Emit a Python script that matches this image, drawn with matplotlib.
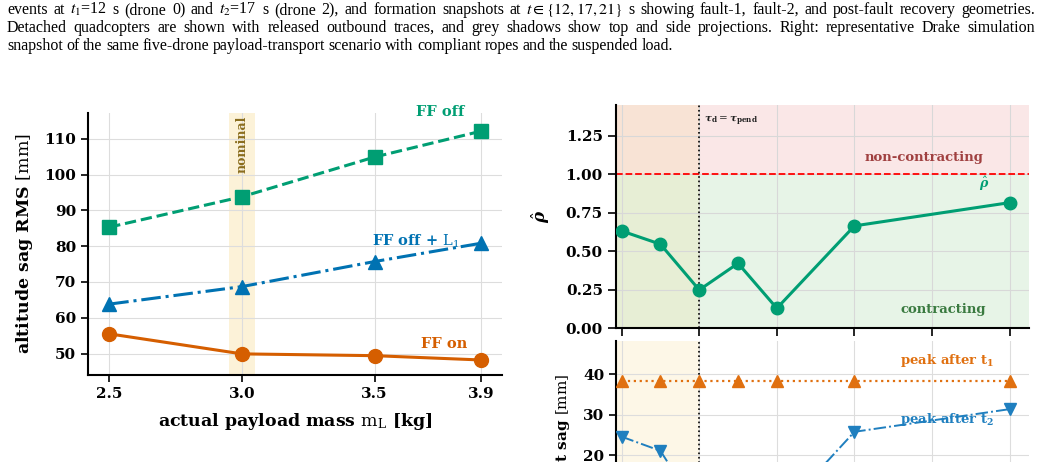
import matplotlib
matplotlib.use("Agg")
import matplotlib.pyplot as plt
import numpy as np

plt.rcParams['font.family'] = ['DejaVu Serif']
plt.rcParams['mathtext.fontset'] = 'dejavuserif'

GREEN = '#009E73'
BLUE = '#0072B2'
ORANGE = '#D55E00'

# left panel: sag RMS vs payload mass
mass = [2.5, 3.0, 3.5, 3.9]
ff_off = [85.3, 93.8, 104.9, 112.1]
ff_off_l1 = [63.8, 68.7, 75.7, 80.8]
ff_on = [55.5, 49.9, 49.4, 48.2]

# right panels: delay sweep
delay = [0, 0.5, 1, 1.5, 2, 3, 5]
delay_ticks = [0, 1, 2, 3, 4, 5]
rho_hat = [0.632, 0.546, 0.249, 0.422, 0.130, 0.665, 0.816]
peak_t1 = [38.4, 38.4, 38.4, 38.4, 38.4, 38.4, 38.4]
peak_t2 = [24.6, 21.1, 6.0, 8.0, 5.0, 25.8, 31.4]

caption = [
    ["events", "at", "$t_1$=12", "s", "(drone", "0)", "and", "$t_2$=17", "s", "(drone", "2),", "and",
     "formation", "snapshots", "at", r"$t\in\{12,17,21\}$", "s", "showing", "fault-1,", "fault-2,",
     "and", "post-fault", "recovery", "geometries."],
    ["Detached", "quadcopters", "are", "shown", "with", "released", "outbound", "traces,", "and",
     "grey", "shadows", "show", "top", "and", "side", "projections.", "Right:", "representative",
     "Drake", "simulation"],
    ["snapshot", "of", "the", "same", "five-drone", "payload-transport", "scenario", "with",
     "compliant", "ropes", "and", "the", "suspended", "load."],
]

W, H = 1041, 462
fig = plt.figure(figsize=(W / 100, H / 100), dpi=100)

def px(x0, y0, x1, y1):
    return [x0 / W, 1 - y1 / H, (x1 - x0) / W, (y1 - y0) / H]

def style(a):
    for s in ['top', 'right']:
        a.spines[s].set_visible(False)
    for s in ['left', 'bottom']:
        a.spines[s].set_linewidth(1.5)
    plt.setp(a.get_xticklabels() + a.get_yticklabels(), fontweight='bold')

# ---------- caption (justified) ----------
renderer = fig.canvas.get_renderer()
cap_left, cap_right = 7, 1035
baselines = [14, 32, 50]
for i, words in enumerate(caption):
    texts = [fig.text(0, 1 - baselines[i] / H, w, fontsize=11.5, family='Liberation Serif',
                      math_fontfamily='stix', va='baseline')
             for w in words]
    widths = [t.get_window_extent(renderer).width for t in texts]
    if i < len(caption) - 1:
        gap = (cap_right - cap_left - sum(widths)) / (len(words) - 1)
    else:
        gap = 3.5
    x = cap_left
    for t, w in zip(texts, widths):
        t.set_x(x / W)
        x += w + gap

# ---------- left panel ----------
ax = fig.add_axes(px(88, 113, 502, 375))
ax.axvspan(2.95, 3.05, color='#f0c040', alpha=0.2, lw=0, zorder=0)
ax.plot(mass, ff_off, ls='--', marker='s', color=GREEN, lw=2.2, ms=10, zorder=3)
ax.plot(mass, ff_off_l1, ls='-.', marker='^', color=BLUE, lw=2.2, ms=10, zorder=3)
ax.plot(mass, ff_on, ls='-', marker='o', color=ORANGE, lw=2.2, ms=10, zorder=3)
ax.set_xlim(2.42, 3.98)
ax.set_ylim(44, 117.2)
ax.set_xticks(mass)
ax.set_xticklabels(['2.5', '3.0', '3.5', '3.9'])
ax.set_yticks([50, 60, 70, 80, 90, 100, 110])
ax.tick_params(labelsize=11, length=5, width=1.2)
ax.grid(True, color='#dddddd', lw=0.8)
style(ax)
ax.set_xlabel(r"actual payload mass $\mathrm{m_L}$ [kg]", fontsize=12.5, fontweight='bold',
              labelpad=7)
ax.set_ylabel(r"altitude sag RMS $[\mathrm{mm}]$", fontsize=12.5, fontweight='bold',
              labelpad=7)
ax.text(3.0, 116.5, "nominal", rotation=90, ha='center', va='top', fontsize=9,
        color='#8a6d1e', fontweight='bold')
ax.text(3.84, 117.6, "FF off", ha='right', va='center', color=GREEN, fontsize=10.5,
        fontweight='bold', clip_on=False)
ax.text(3.82, 81.4, r"FF off + $\mathrm{L_1}$", ha='right', va='center', color=BLUE,
        fontsize=10.5, fontweight='bold')
ax.text(3.85, 52.7, "FF on", ha='right', va='center', color=ORANGE, fontsize=10.5,
        fontweight='bold')

# ---------- right top: contraction estimate ----------
ax2 = fig.add_axes(px(616, 105, 1029, 328.3))
ax2.axhspan(1.0, 1.45, color='#d62728', alpha=0.11, lw=0, zorder=0)
ax2.axhspan(0.0, 1.0, color='#2ca02c', alpha=0.11, lw=0, zorder=0)
ax2.axvspan(-0.073, 1, color='#f0c040', alpha=0.1, lw=0, zorder=0)
ax2.axhline(1.0, color='red', ls='--', lw=1.3, zorder=2)
ax2.axvline(1, color='black', ls=':', lw=1.2, zorder=2)
ax2.plot(delay, rho_hat, marker='o', color=GREEN, lw=2.2, ms=9, zorder=3)
ax2.set_xlim(-0.073, 5.25)
ax2.set_ylim(0, 1.45)
ax2.set_xticks(delay_ticks)
ax2.set_xticklabels([])
ax2.set_yticks([0, 0.25, 0.5, 0.75, 1.0, 1.25])
ax2.set_yticklabels(['0.00', '0.25', '0.50', '0.75', '1.00', '1.25'])
ax2.tick_params(labelsize=11, length=6, width=1.2)
ax2.grid(True, color='#d8d8d8', lw=0.8)
style(ax2)
ax2.set_ylabel(r"$\hat{\boldsymbol{\rho}}$", fontsize=12, labelpad=10)
ax2.text(1.06, 1.34, r"$\boldsymbol{\tau}_\mathbf{d} = \boldsymbol{\tau}_\mathbf{pend}$",
         fontsize=7.5, va='center', ha='left', color='#222222')
ax2.text(3.9, 1.11, "non-contracting", ha='center', va='center', color='#a04040',
         fontsize=9.5, fontweight='bold')
ax2.text(4.7, 0.12, "contracting", ha='right', va='center', color='#3a7a40',
         fontsize=9.5, fontweight='bold')
ax2.text(4.67, 0.94, r"$\hat{\boldsymbol{\rho}}$", ha='center', va='center', color=GREEN,
         fontsize=9)

# ---------- right bottom: peak sag (cropped at page edge) ----------
ax3 = fig.add_axes(px(616, 340.7, 1029, 536.3))
ax3.axvspan(-0.073, 1, color='#f0c040', alpha=0.12, lw=0, zorder=0)
ax3.axvline(1, color='black', ls=':', lw=1.2, zorder=2)
ax3.plot(delay, peak_t1, ls=':', marker='^', color='#E07010', lw=1.6, ms=9, zorder=3)
ax3.plot(delay, peak_t2, ls='-.', marker='v', color='#1f7fbf', lw=1.4, ms=9, zorder=3)
ax3.set_xlim(-0.073, 5.25)
ax3.set_ylim(0, 48.3)
ax3.set_xticks(delay_ticks)
ax3.set_xticklabels([])
ax3.set_yticks([10, 20, 30, 40])
ax3.tick_params(labelsize=11, length=5, width=1.2)
ax3.grid(True, color='#dddddd', lw=0.8)
style(ax3)
fig.text(563 / W, 1 - 373 / H, r"transient sag $[\mathrm{mm}]$", rotation=90, ha='center',
         va='top', fontsize=11, fontweight='bold')
ax3.text(4.2, 43.5, r"peak after $\mathbf{t_1}$", ha='center', va='center', color='#E07010',
         fontsize=9.5, fontweight='bold')
ax3.text(4.2, 28.9, r"peak after $\mathbf{t_2}$", ha='center', va='center', color='#1f7fbf',
         fontsize=9.5, fontweight='bold')

fig.savefig("out.png", dpi=100)
